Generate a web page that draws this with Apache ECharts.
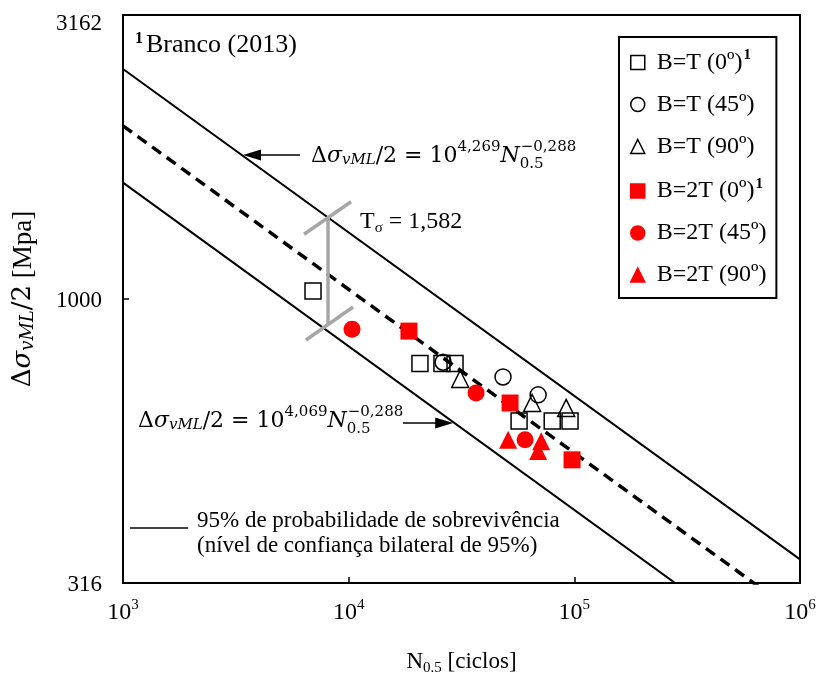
<!DOCTYPE html>
<html lang="pt">
<head>
<meta charset="UTF-8">
<title>Δσ vML/2 x N0.5</title>
<script src="https://cdn.jsdelivr.net/npm/echarts@6/dist/echarts.min.js"></script>
<style>
html, body { margin: 0; padding: 0; background: #fff; }
#main { width: 824px; height: 675px; }
</style>
</head>
<body>
<div id="main"></div>
<script type="text/javascript">
// pontos experimentais: [N0.5 (ciclos), Δσ_vML/2 (MPa)]
var bt0   = [[6950, 1033], [20700, 770], [25900, 770], [29600, 770], [56900, 610], [79800, 610], [95700, 610]];
var bt45  = [[26200, 774], [48300, 729], [69100, 678]];
var bt90  = [[31200, 723], [65000, 656], [92000, 643]];
var b2t0  = [[18500, 878], [51900, 656], [97700, 521]];
var b2t45 = [[10350, 885], [36700, 683], [60500, 565]];
var b2t90 = [[50900, 565], [71300, 562], [69100, 540]];

// curvas S-N (10^4,269 / 10^4,169 / 10^4,069 * N^-0,288)
var upperLine = [[1e3, 2541], [1e6, 348]];
var meanLine  = [[1e3, 2018], [1e6, 276]];
var lowerLine = [[1e3, 1603], [1e6, 219]];

// barra T_sigma
var tBar       = [[8100, 1393], [8100, 904]];
var tCapTop    = [[6340, 1300], [10250, 1483]];
var tCapBottom = [[6470, 847], [10460, 968]];

// setas das equações
var arrowUpper = [[6090, 1793], [3730, 1793]];
var arrowLower = [[17400, 605], [26500, 605]];

var xPowers = [3, 4, 5, 6];
var yTickValues = [316.23, 1000, 3162.2];
var yTickLabels = ['316', '1000', '3162'];

var seriesNames = ['B=T (0º)', 'B=T (45º)', 'B=T (90º)', 'B=2T (0º)', 'B=2T (45º)', 'B=2T (90º)'];
var supNames = ['B=T (0º)', 'B=2T (0º)'];

var SERIF = '"Liberation Serif", "Times New Roman", serif';
var MATH = '"DejaVu Serif", serif';

var myChart = echarts.init(document.getElementById('main'));

function scatter(name, data, symbol, size, filled) {
    return {
        name: name, type: 'scatter', data: data, symbol: symbol, symbolSize: size,
        z: 5,
        itemStyle: filled
            ? { color: '#ff0000', borderColor: '#ff0000', borderWidth: 0, opacity: 1 }
            : { color: 'transparent', borderColor: '#000', borderWidth: 1.5, opacity: 1 },
        emphasis: { disabled: true }
    };
}

function line(data, color, width, type) {
    return {
        type: 'line', data: data, symbol: 'none', silent: true, z: 2,
        lineStyle: { color: color, width: width, type: type || 'solid' },
        clip: true
    };
}

// estilos para as equações
var eqRich = {
    m: { fontFamily: MATH, fontSize: 22, color: '#000' },
    i: { fontFamily: MATH, fontSize: 22, fontStyle: 'italic', color: '#000' },
    s: { fontFamily: MATH, fontSize: 15, fontStyle: 'italic', color: '#000', padding: [8, 0, 0, 0] },
    q: { fontFamily: MATH, fontSize: 15, color: '#000', padding: [17, 0, 0, 0], width: 1 },
    p: { fontFamily: MATH, fontSize: 15, color: '#000', padding: [0, 0, 18, 0] }
};
function equation(exp) {
    return '{m|Δ}{i|σ}{s|vML}{m|/2 = 10}{p|' + exp + '}{i|N}{q|0.5}{p|−0,288}';
}

var option = {
    animation: false,
    backgroundColor: '#fff',
    grid: {
        left: 123, top: 15, right: 24, bottom: 92,
        show: true, borderColor: '#000', borderWidth: 2,
        outerBoundsMode: 'none'
    },
    legend: {
        orient: 'vertical', left: 619, top: 37,
        padding: [11, 10, 11, 11],
        itemWidth: 14, itemHeight: 14, itemGap: 18,
        borderColor: '#000', borderWidth: 2,
        selectedMode: false,
        data: seriesNames,
        itemStyle: { borderWidth: 1.5 },
        formatter: function (name) {
            return '{t|' + name + '}' + (supNames.indexOf(name) >= 0 ? '{s|1}' : '');
        },
        textStyle: {
            color: '#000', fontFamily: SERIF, fontSize: 24, lineHeight: 24,
            rich: {
                t: { fontFamily: SERIF, fontSize: 24, color: '#000', padding: [0, 0, 0, 7] },
                s: { fontFamily: SERIF, fontSize: 15, fontWeight: 'bold', color: '#000', padding: [0, 0, 14, 1] }
            }
        }
    },
    xAxis: {
        type: 'log', logBase: 10, min: 1e3, max: 1e6,
        name: '{n|N}{s|0.5}{n| [ciclos]}',
        nameLocation: 'middle', nameGap: 64, nameMoveOverlap: false,
        nameTextStyle: {
            verticalAlign: 'top',
            rich: {
                n: { fontFamily: SERIF, fontSize: 23, color: '#000' },
                s: { fontFamily: SERIF, fontSize: 15, color: '#000', padding: [14, 0, 0, 0] }
            }
        },
        axisLine: { show: true, onZero: false, lineStyle: { color: '#000', width: 2 } },
        axisTick: { show: true, inside: true, length: 6, lineStyle: { color: '#000', width: 1.5 } },
        minorTick: { show: false },
        splitLine: { show: false },
        axisLabel: {
            margin: 15,
            formatter: function (v) {
                var e = Math.round(Math.log10(v));
                return xPowers.indexOf(e) >= 0 ? '{b|10}{e|' + e + '}' : '';
            },
            rich: {
                b: { fontFamily: SERIF, fontSize: 24, color: '#000' },
                e: { fontFamily: SERIF, fontSize: 15, color: '#000', padding: [0, 0, 14, 0] }
            }
        }
    },
    yAxis: {
        type: 'log', logBase: 10, min: Math.pow(10, 2.5), max: Math.pow(10, 3.5),
        name: '{m|Δ}{i|σ}{s|vML}{m|/2}{t| [Mpa]}',
        nameLocation: 'middle', nameRotate: 90, nameGap: 86, nameMoveOverlap: false,
        nameTextStyle: {
            rich: {
                m: { fontFamily: MATH, fontSize: 26, color: '#000' },
                i: { fontFamily: MATH, fontSize: 26, fontStyle: 'italic', color: '#000' },
                s: { fontFamily: MATH, fontSize: 18, fontStyle: 'italic', color: '#000', padding: [9, 0, 0, 0] },
                t: { fontFamily: SERIF, fontSize: 27, color: '#000' }
            }
        },
        axisLine: { show: true, onZero: false, lineStyle: { color: '#000', width: 2 } },
        axisTick: { show: true, inside: true, length: 6, customValues: [1000], lineStyle: { color: '#000', width: 1.5 } },
        minorTick: { show: false },
        splitLine: { show: false },
        axisLabel: {
            margin: 21,
            customValues: yTickValues,
            fontFamily: SERIF, fontSize: 23, color: '#000',
            formatter: function (v) {
                var k = yTickValues.indexOf(v);
                if (k < 0) k = v < 500 ? 0 : (v < 2000 ? 1 : 2);
                if (k === 2) return '{hi|' + yTickLabels[k] + '}';
                return '{n|' + yTickLabels[k] + '}';
            },
            rich: {
                n: { fontFamily: SERIF, fontSize: 23, color: '#000', padding: [3, 0, 0, 0] },
                hi: { fontFamily: SERIF, fontSize: 23, color: '#000', padding: [17, 0, 0, 0] }
            }
        }
    },
    series: [
        line(upperLine, '#000', 2),
        line(lowerLine, '#000', 2),
        line(meanLine, '#000', 3.5, [11, 7]),
        line(tBar, '#a6a6a6', 3.5),
        line(tCapTop, '#a6a6a6', 3.5),
        line(tCapBottom, '#a6a6a6', 3.5),
        {
            type: 'line', data: [], silent: true,
            markLine: {
                silent: true, animation: false,
                symbol: ['none', 'triangle'], symbolSize: [11, 18],
                label: { show: false },
                lineStyle: { color: '#000', width: 1.5, type: 'solid' },
                emphasis: { disabled: true },
                data: [
                    [{ coord: arrowUpper[0] }, { coord: arrowUpper[1] }],
                    [{ coord: arrowLower[0] }, { coord: arrowLower[1] }]
                ]
            }
        },
        scatter(seriesNames[0], bt0, 'rect', 16, false),
        scatter(seriesNames[1], bt45, 'circle', 16, false),
        scatter(seriesNames[2], bt90, 'triangle', 17, false),
        scatter(seriesNames[3], b2t0, 'rect', 17, true),
        scatter(seriesNames[4], b2t45, 'circle', 17, true),
        scatter(seriesNames[5], b2t90, 'triangle', 18, true)
    ],
    graphic: [
        {
            type: 'text', x: 135, y: 45, silent: true,
            style: {
                text: '{s|1}{t|Branco (2013)}', verticalAlign: 'middle',
                rich: {
                    s: { fontFamily: SERIF, fontSize: 16, fontWeight: 'bold', fill: '#000', padding: [0, 3, 12, 0] },
                    t: { fontFamily: SERIF, fontSize: 26, fill: '#000' }
                }
            }
        },
        {
            type: 'text', x: 311, y: 156, silent: true,
            style: { text: equation('4,269'), verticalAlign: 'middle', rich: eqRich }
        },
        {
            type: 'text', x: 138, y: 421, silent: true,
            style: { text: equation('4,069'), verticalAlign: 'middle', rich: eqRich }
        },
        {
            type: 'text', x: 360, y: 222, silent: true,
            style: {
                text: '{t|T}{s|σ}{t| = 1,582}', verticalAlign: 'middle',
                rich: {
                    t: { fontFamily: SERIF, fontSize: 24, fill: '#000' },
                    s: { fontFamily: SERIF, fontSize: 15, fill: '#000', padding: [12, 0, 0, 0] }
                }
            }
        },
        {
            type: 'line', silent: true,
            shape: { x1: 130, y1: 528, x2: 188, y2: 528 },
            style: { stroke: '#000', lineWidth: 1.5 }
        },
        {
            type: 'text', x: 197, y: 533, silent: true,
            style: {
                text: '95% de probabilidade de sobrevivência\n(nível de confiança bilateral de 95%)',
                fontFamily: SERIF, fontSize: 23, lineHeight: 25, fill: '#000',
                verticalAlign: 'middle'
            }
        }
    ]
};

myChart.setOption(option);
</script>
</body>
</html>
